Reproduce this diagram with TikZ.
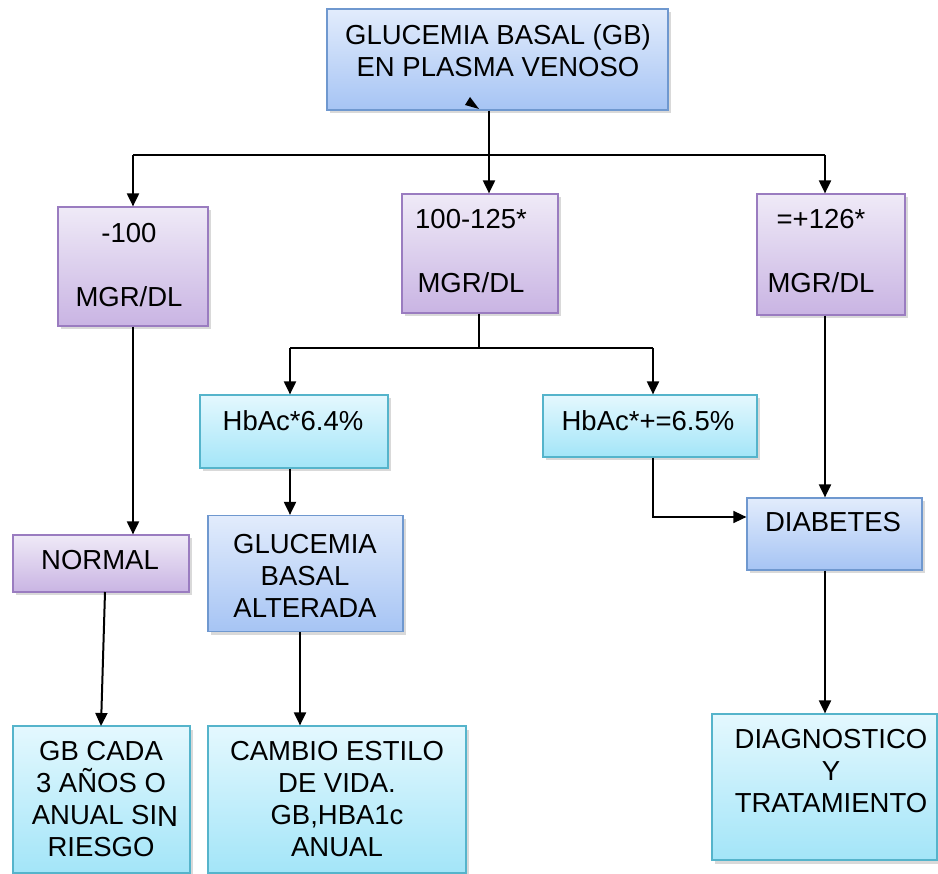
\documentclass[tikz,border=0pt]{standalone}
\usepackage{fontspec}
\setmainfont{Liberation Sans}
\usetikzlibrary{arrows.meta,shadows}
\definecolor{blueTop}{HTML}{E2ECFC}
\definecolor{blueBot}{HTML}{A6C4F4}
\definecolor{blueLine}{HTML}{6F98CF}
\definecolor{lilaTop}{HTML}{EFEAF7}
\definecolor{lilaBot}{HTML}{C9B4E3}
\definecolor{lilaLine}{HTML}{9A7CC0}
\definecolor{cyanTop}{HTML}{E4F8FE}
\definecolor{cyanBot}{HTML}{A3E5F8}
\definecolor{cyanLine}{HTML}{55B4CB}

\begin{document}
\begin{tikzpicture}[x=1pt, y=-1pt,
    box/.style = {draw, line width=1.2pt, inner sep=0pt,
      drop shadow={shadow xshift=2.5pt, shadow yshift=-3.5pt, opacity=0.3}},
    bluebox/.style = {box, draw=blueLine, top color=blueTop, bottom color=blueBot},
    lilabox/.style = {box, draw=lilaLine, top color=lilaTop, bottom color=lilaBot},
    cyanbox/.style = {box, draw=cyanLine, top color=cyanTop, bottom color=cyanBot},
    txt/.style = {font=\fontsize{27.5}{32}\selectfont, align=center, inner sep=0pt, anchor=base},
    ln/.style = {line width=2pt},
    arr/.style = {ln, -{Triangle[length=13pt,width=12pt]}}]
    \useasboundingbox (0,0) rectangle (938,874);

    % boxes
    \node[bluebox, minimum width=341pt, minimum height=101pt] (gb) at (497.5,59.5) {};
    \node[lilabox, minimum width=150pt, minimum height=119pt] (m100) at (133,266.5) {};
    \node[lilabox, minimum width=156pt, minimum height=119pt] (m125) at (480,253.5) {};
    \node[lilabox, minimum width=148pt, minimum height=121pt] (m126) at (831,254.5) {};
    \node[cyanbox, minimum width=188pt, minimum height=73pt] (hb64) at (294,431.5) {};
    \node[cyanbox, minimum width=214pt, minimum height=62pt] (hb65) at (650,426) {};
    \node[bluebox, minimum width=195pt, minimum height=116pt] (gba) at (305.5,573.5) {};
    \node[lilabox, minimum width=176pt, minimum height=57pt] (normal) at (101,563.5) {};
    \node[bluebox, minimum width=175pt, minimum height=72pt] (diab) at (834.5,534) {};
    \node[cyanbox, minimum width=177pt, minimum height=147pt] (gbcada) at (101.5,799.5) {};
    \node[cyanbox, minimum width=258pt, minimum height=147pt] (cambio) at (337,799.5) {};
    \node[cyanbox, minimum width=225pt, minimum height=146pt] (diag) at (824.5,787) {};

    % texts (base = last line)
    \node[txt] (gb-t) at (498,77) {GLUCEMIA BASAL (GB)\\EN PLASMA VENOSO};
    \node[txt] (m100-t) at (129,307) {-100\\[32pt]MGR/DL};
    \node[txt] (m125-t) at (471,293) {100-125*\\[32pt]MGR/DL};
    \node[txt] (m126-t) at (821,293) {=+126*\\[32pt]MGR/DL};
    \node[txt] (hb64-t) at (293,431) {HbAc*6.4\%};
    \node[txt] (hb65-t) at (648,431) {HbAc*+=6.5\%};
    \node[txt] (gba-t) at (305,617) {GLUCEMIA\\BASAL\\ALTERADA};
    \node[txt] (normal-t) at (100,570) {NORMAL};
    \node[txt] (diab-t) at (833,532) {DIABETES};
    \node[txt] (gbcada-t) at (101,856) {GB CADA\\3 AÑOS O\\\hspace*{8pt}ANUAL SI\raisebox{-2pt}{\fontsize{29}{32}\selectfont N}\\RIESGO};
    \node[txt] (cambio-t) at (337,856) {CAMBIO ESTILO\\DE VIDA.\\GB,HBA1c\\ANUAL};
    \node[txt] (diag-t) at (831,812) {DIAGNOSTICO\\Y\\TRATAMIENTO};

    % connectors
    \coordinate (j1) at (489,155);
    \coordinate (hl) at (133,155);
    \coordinate (hr) at (825,155);
    \coordinate (j2) at (479,348);
    \coordinate (sl) at (290,348);
    \coordinate (sr) at (653,348);
    \coordinate (k1) at (653,517);
    \coordinate (n1) at (105,592);
    \coordinate (n2) at (101,726);
    \coordinate (g1) at (300,632);

    \fill (470,97) -- (465,105) -- (479,109) -- cycle;
    \draw[ln] (gb.south -| j1) -- (j1);
    \draw[line width=1.3pt] (hl) -- (hr);
    \draw[arr] (j1) -- (m125.north -| j1);
    \draw[arr] (hl) -- (m100.north -| hl);
    \draw[arr] (hr) -- (m126.north -| hr);
    \draw[line width=1.3pt] (m125.south -| j2) -- (j2);
    \draw[line width=1.3pt] (sl) -- (sr);
    \draw[arr] (sl) -- (hb64.north -| sl);
    \draw[arr] (sr) -- (hb65.north -| sr);
    \draw[arr] (m100.south) -- (normal.north -| m100.south);
    \draw[arr] (m126.south -| hr) -- (diab.north -| hr);
    \draw[arr] (hb64.south -| sl) -- (gba.north -| sl);
    \draw[line width=1.5pt, -{Triangle[length=13pt,width=12pt]}] (hb65.south -| k1) -- (k1) -- (diab.west |- k1);
    \draw[arr] (n1) -- (n2);
    \draw[arr] (g1) -- (cambio.north -| g1);
    \draw[arr] (diab.south -| hr) -- (diag.north -| hr);
\end{tikzpicture}
\end{document}
